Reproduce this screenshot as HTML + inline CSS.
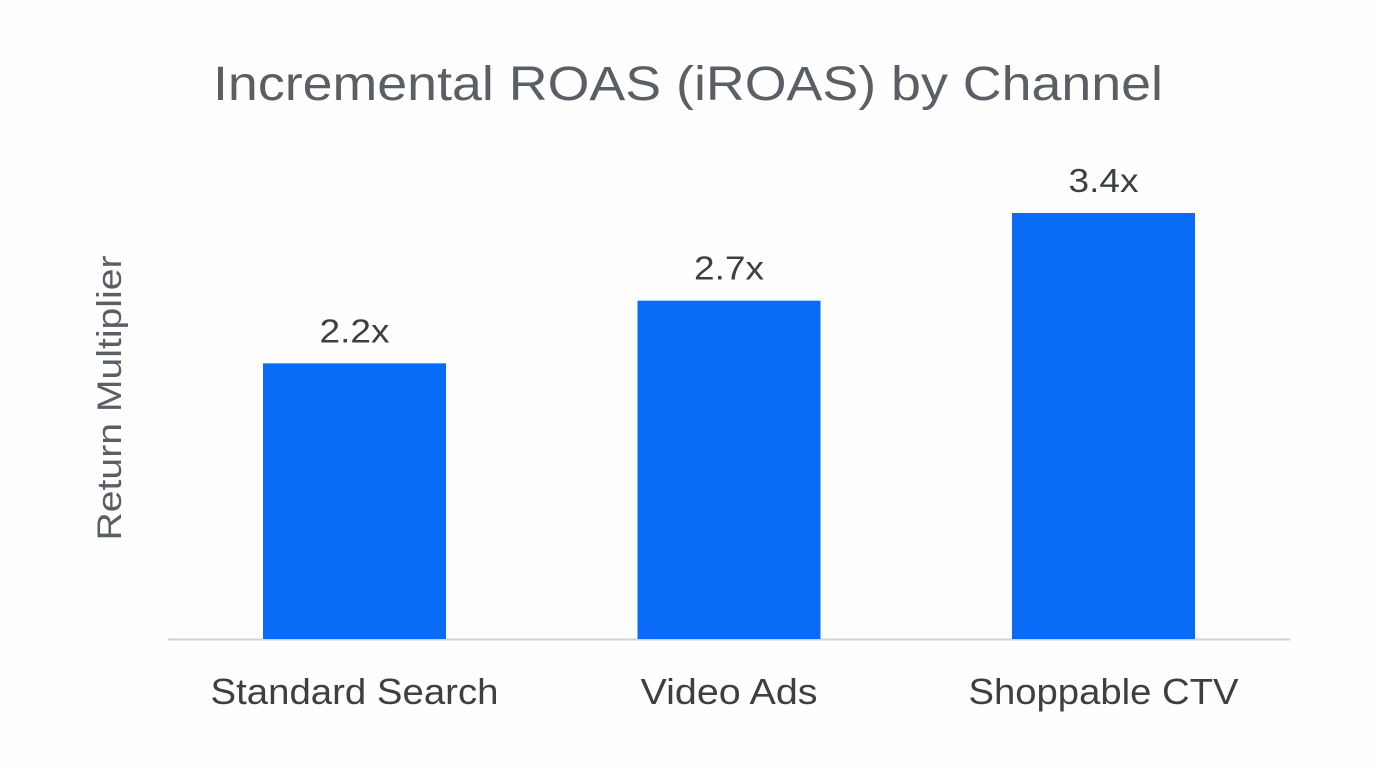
<!DOCTYPE html>
<html><head><meta charset="utf-8"><style>
html,body{margin:0;padding:0;background:#fff;}
svg{display:block;font-family:"Liberation Sans",sans-serif;}
</style></head><body>
<svg id="chart" width="1376" height="768">
<rect width="1376" height="768" fill="#fefefe"/>
<text x="688" y="100" text-anchor="middle" font-size="48" textLength="950" lengthAdjust="spacingAndGlyphs" fill="#5a5f66">Incremental ROAS (iROAS) by Channel</text>
<text transform="translate(121,398) rotate(-90)" text-anchor="middle" font-size="34" textLength="285" lengthAdjust="spacingAndGlyphs" fill="#5a5f66">Return Multiplier</text>
<line x1="168" y1="639.5" x2="1290" y2="639.5" stroke="#cfd2d6" stroke-width="2"/>
<g id="bars"></g>
</svg>
<script>
const categories = ["Standard Search","Video Ads","Shoppable CTV"];
const values = [2.2, 2.7, 3.4];
const valueLabels = ["2.2x","2.7x","3.4x"];
const baseY = 639, pxPerUnit = 125.3;
const catLen = [288, 177, 270];
function yScale(v){ return baseY - v*pxPerUnit; }
function xCenter(i){ return 354.5 + i*374.5; }
const g = document.getElementById('bars');
const NS = "http://www.w3.org/2000/svg";
categories.forEach((c,i)=>{
  const bw = 183, x = xCenter(i)-bw/2, y = yScale(values[i]);
  const r = document.createElementNS(NS,'rect');
  r.setAttribute('x',x); r.setAttribute('y',y); r.setAttribute('width',bw); r.setAttribute('height',baseY-y);
  r.setAttribute('fill','#086cf7');
  
  
  g.appendChild(r);
  const t = document.createElementNS(NS,'text');
  t.setAttribute('x',xCenter(i)); t.setAttribute('y',y-21);
  t.setAttribute('text-anchor','middle'); t.setAttribute('font-size','33'); t.setAttribute('fill','#3c4043');
  t.setAttribute('textLength','70'); t.setAttribute('lengthAdjust','spacingAndGlyphs');
  t.textContent = valueLabels[i];
  
  
  g.appendChild(t);
  const l = document.createElementNS(NS,'text');
  l.setAttribute('x',xCenter(i)); l.setAttribute('y',704);
  l.setAttribute('text-anchor','middle'); l.setAttribute('font-size','36'); l.setAttribute('fill','#3c4043');
  l.setAttribute('textLength',catLen[i]); l.setAttribute('lengthAdjust','spacingAndGlyphs');
  l.textContent = c;
  
  
  g.appendChild(l);
});
</script>
</body></html>
